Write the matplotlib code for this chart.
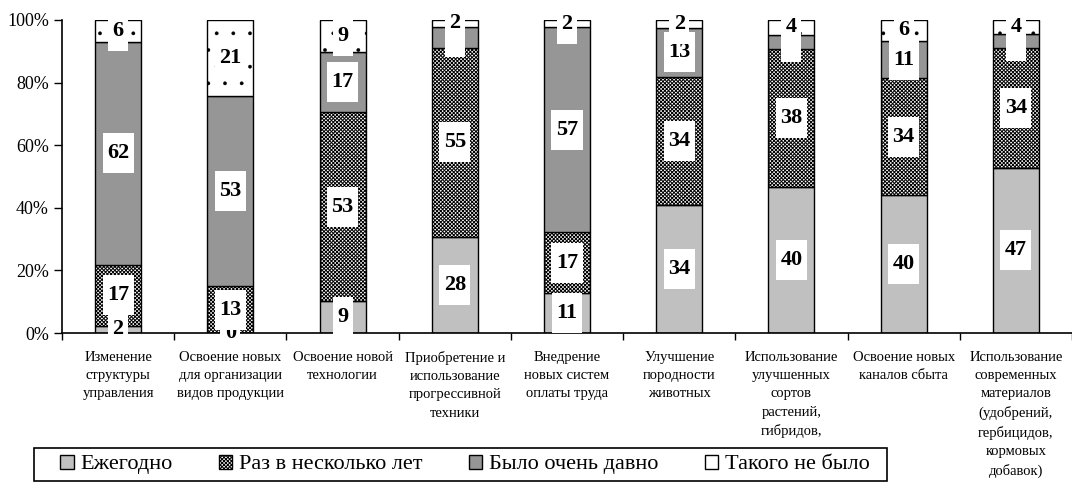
import matplotlib
matplotlib.use('Agg')
import matplotlib.pyplot as plt
from matplotlib.path import Path
from matplotlib.patches import Rectangle, Patch
import numpy as np

plt.rcParams['font.family'] = ['Liberation Serif', 'DejaVu Serif']
plt.rcParams['hatch.linewidth'] = 0.7

# категории (подписи оси X)
categories = [
    'Изменение\nструктуры\nуправления',
    'Освоение новых\nдля организации\nвидов продукции',
    'Освоение новой\nтехнологии',
    'Приобретение и\nиспользование\nпрогрессивной\nтехники',
    'Внедрение\nновых систем\nоплаты труда',
    'Улучшение\nпородности\nживотных',
    'Использование\nулучшенных\nсортов\nрастений,\nгибридов,',
    'Освоение новых\nканалов сбыта',
    'Использование\nсовременных\nматериалов\n(удобрений,\nгербицидов,\nкормовых\nдобавок)',
]

series_names = ['Ежегодно', 'Раз в несколько лет', 'Было очень давно', 'Такого не было']
yearly     = [2, 0, 9, 28, 11, 34, 40, 40, 47]
few_years  = [17, 13, 53, 55, 17, 34, 38, 34, 34]
long_ago   = [62, 53, 17, 6, 57, 13, 4, 11, 4]
never      = [6, 21, 9, 2, 2, 2, 4, 6, 4]

face = ['#c0c0c0', 'white', '#969696', 'white']
hatches = [None, 'xxxxxxxxx', None, '.']
hatch_lw = [0.7, 0.7, 0.7, 0.25]


def tall_box(x0, y0, width, height, mutation_size):
    # белая подложка под подписью, выше чем шире
    px = 0.2 * mutation_size
    py = 0.45 * mutation_size
    x0, y0 = x0 - px, y0 - py
    x1, y1 = x0 + width + 2 * px, y0 + height + 2 * py
    return Path([(x0, y0), (x1, y0), (x1, y1), (x0, y1), (x0, y0)], closed=True)


data = np.array([yearly, few_years, long_ago, never], dtype=float)
totals = data.sum(axis=0)
pct = data / totals * 100

fig = plt.figure(figsize=(10.72, 4.83), dpi=100)
ax = fig.add_axes([62 / 1072, 1 - 333 / 483, 1 - 62 / 1072, 313 / 483])

x = np.arange(len(categories))
bottom = np.zeros(len(categories))
for i in range(4):
    b = ax.bar(x, pct[i], 0.41, bottom=bottom, color=face[i], edgecolor='black',
               linewidth=1.0, hatch=hatches[i], zorder=2, label=series_names[i])
    for p in b:
        if hasattr(p, 'set_hatch_linewidth'):
            p.set_hatch_linewidth(hatch_lw[i])
    for j in range(len(categories)):
        ax.text(x[j], bottom[j] + pct[i][j] / 2, '%d' % data[i][j],
                ha='center', va='center', fontsize=16, fontweight='bold',
                bbox=dict(boxstyle=tall_box, fc='white', ec='none'),
                zorder=3 + i, clip_on=False)
    bottom += pct[i]

ax.set_xlim(-0.5, len(categories) - 0.5)
ax.set_ylim(0, 100)
ax.set_yticks(np.arange(0, 101, 20))
ax.set_yticklabels(['%d%%' % v for v in range(0, 101, 20)], fontsize=13)
ax.tick_params(axis='y', direction='out', length=6, width=1)

ax.set_xticks(np.arange(len(categories) + 1) - 0.5)
ax.set_xticklabels([])
ax.tick_params(axis='x', which='major', direction='out', length=5, width=1)
ax.set_xticks(x, minor=True)
ax.set_xticklabels(categories, minor=True, fontsize=10.5, linespacing=1.52, va='top')
ax.tick_params(axis='x', which='minor', length=0, pad=13)

for s in ['top', 'right']:
    ax.spines[s].set_visible(False)
ax.spines['left'].set_linewidth(1.2)
ax.spines['bottom'].set_linewidth(1.2)

# рамка легенды отдельно, чтобы отступы были как в оригинале
fig.patches.append(Rectangle((34 / 1072, 2 / 483), 853 / 1072, 33 / 483,
                             transform=fig.transFigure, fill=False,
                             edgecolor='black', linewidth=1.2))
leg_handles = [Patch(facecolor=face[i], edgecolor='black', linewidth=1.0,
                     hatch=hatches[i] if i == 1 else None) for i in range(4)]
leg = fig.legend(handles=leg_handles, labels=series_names, ncol=4, mode='expand',
                 bbox_to_anchor=(58 / 1072, 4 / 483, 814 / 1072, 29 / 483),
                 bbox_transform=fig.transFigure, loc='center left', borderaxespad=0,
                 fontsize=16, handlelength=0.6, handleheight=0.6, handletextpad=0.3,
                 frameon=False, borderpad=0.1)

fig.savefig('out.png', dpi=100)
